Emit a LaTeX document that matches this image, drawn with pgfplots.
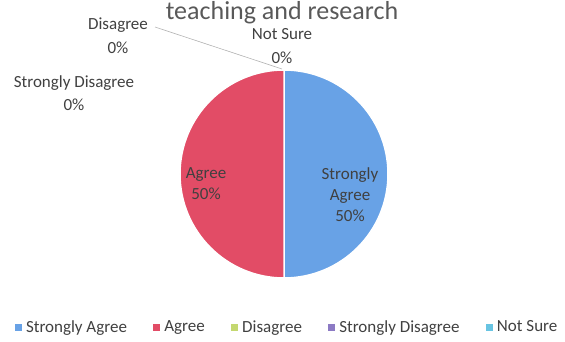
\documentclass[border=0pt]{standalone}
\usepackage{pgfplots}
\pgfplotsset{compat=1.18}
\usepackage{fontspec}
\setmainfont{Carlito}

\definecolor{cSA}{RGB}{104,162,230}
\definecolor{cA}{RGB}{226,76,102}
\definecolor{cD}{RGB}{196,216,112}
\definecolor{cSD}{RGB}{140,122,196}
\definecolor{cNS}{RGB}{104,196,226}
\definecolor{txt}{RGB}{64,64,64}
\definecolor{ttl}{RGB}{89,89,89}

\newcommand{\lblfont}{\fontsize{17bp}{23.5bp}\selectfont}

\begin{document}
\begin{tikzpicture}
\begin{axis}[
    x=1bp, y=1bp,
    xmin=0, xmax=565, ymin=0, ymax=342,
    hide axis, clip=false,
    legend columns=5,
    legend cell align=left,
    legend style={draw=none, fill=none,
        at={(287/565,15/342)}, anchor=center,
        font=\fontsize{17bp}{20bp}\selectfont, text=txt,
        /tikz/every even column/.append style={column sep=24bp}},
    legend entries={Strongly Agree, Agree, Disagree, Strongly Disagree, Not Sure},
]
% shares (%): Strongly Agree 50, Agree 50, Disagree 0, Strongly Disagree 0, Not Sure 0
% slices go clockwise from 12 o'clock, 3.6 degrees per percent
\fill[cSA, draw=white, line width=1.5bp] (axis cs:284,168) -- (axis cs:284,272)
    arc[start angle=90, end angle=-90, radius=104bp] -- cycle;
\fill[cA, draw=white, line width=1.5bp] (axis cs:284,168) -- (axis cs:284,64)
    arc[start angle=-90, end angle=-270, radius=104bp] -- cycle;

\addlegendimage{legend image code/.code={\fill[cSA] (0bp,-3bp) rectangle (6bp,3bp); \path (9bp,0);}}
\addlegendimage{legend image code/.code={\fill[cA] (0bp,-3bp) rectangle (6bp,3bp); \path (9bp,0);}}
\addlegendimage{legend image code/.code={\fill[cD] (0bp,-3bp) rectangle (6bp,3bp); \path (9bp,0);}}
\addlegendimage{legend image code/.code={\fill[cSD] (0bp,-3bp) rectangle (6bp,3bp); \path (9bp,0);}}
\addlegendimage{legend image code/.code={\fill[cNS] (0bp,-3bp) rectangle (6bp,3bp); \path (9bp,0);}}

% title (cut off at the top in the source)
\node[anchor=base, text=ttl, font=\fontsize{26bp}{30bp}\selectfont, inner sep=0pt]
    at (axis cs:282,323) {teaching and research};

% leader line for Disagree
\draw[gray!60, line width=0.6bp] (axis cs:155,315) -- (axis cs:282,273);

% data labels
\node[align=center, text=txt, font=\lblfont, inner sep=0pt] at (axis cs:118,306.5) {Disagree\\0\%};
\node[align=center, text=txt, font=\lblfont, inner sep=0pt] at (axis cs:282,296) {Not Sure\\0\%};
\node[align=center, text=txt, font=\lblfont, inner sep=0pt] at (axis cs:74,249) {Strongly Disagree\\0\%};
\node[align=center, text=txt, font=\fontsize{17bp}{21bp}\selectfont] at (axis cs:206,158) {Agree\\50\%};
\node[align=center, text=txt, font=\fontsize{17bp}{21bp}\selectfont] at (axis cs:350,147) {Strongly\\Agree\\50\%};
\end{axis}
\pgfresetboundingbox
\useasboundingbox (0,0) rectangle (565bp,342bp);
\end{tikzpicture}
\end{document}
